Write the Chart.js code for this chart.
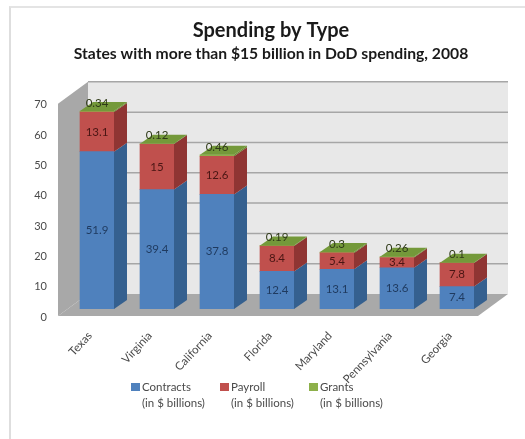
<!DOCTYPE html>
<html>
<head>
<meta charset="utf-8">
<title>Spending by Type</title>
<script src="https://cdn.jsdelivr.net/npm/chart.js@4"></script>
<style>
    html, body { margin: 0; padding: 0; background: #fff; overflow: hidden; }
    #frame { position: absolute; left: 9px; top: 6px; width: 520px; height: 440px; border-left: 2px solid #dedede; border-top: 2px solid #e4e4e4; }
    #wrap { position: absolute; left: 0; top: 0; width: 525px; height: 439px; filter: blur(0.6px); }
</style>
</head>
<body>
<div id="frame"></div>
<div id="wrap"><canvas id="chart" width="525" height="439"></canvas></div>
<script>
const states = ["Texas", "Virginia", "California", "Florida", "Maryland", "Pennsylvania", "Georgia"];
const contracts = [51.9, 39.4, 37.8, 12.4, 13.1, 13.6, 7.4];
const payroll = [13.1, 15, 12.6, 8.4, 5.4, 3.4, 7.8];
const grants = [0.34, 0.12, 0.46, 0.19, 0.3, 0.26, 0.1];
const yTicks = [0, 10, 20, 30, 40, 50, 60, 70];
const seriesNames = ["Contracts", "Payroll", "Grants"];
const legendNote = "(in $ billions)";

const fontName = "Lato, sans-serif";
const textColor = "#4a4a4a";
const frontColors = ["#4f81bd", "#c0504d", "#8db04a"];
const sideColors = ["#35608f", "#8f3533", "#6b8a34"];
const topGreen = "#74993a";

function polygon(ctx, points, fill) {
    ctx.beginPath();
    points.forEach((p, i) => i ? ctx.lineTo(p[0], p[1]) : ctx.moveTo(p[0], p[1]));
    ctx.closePath();
    ctx.fillStyle = fill;
    ctx.fill();
}

// walls and floor of the fake 3d box, behind the bars
const box3d = {
    id: "box3d",
    beforeDatasetsDraw(chart) {
        const { ctx, scales } = chart;
        const left = scales.x.left, right = scales.x.right;
        const y0 = scales.y.getPixelForValue(0), y70 = scales.y.getPixelForValue(70);
        ctx.save();
        // back wall
        polygon(ctx, [[left + 21, y70 - 15], [right + 21, y70 - 15], [right + 21, y0 - 15], [left + 21, y0 - 15]], "#e8e8e8");
        // left wall
        polygon(ctx, [[left - 9, y70 + 7], [left + 21, y70 - 15], [left + 21, y0 - 15], [left - 9, y0 + 7]], "#a8a8a8");
        // floor
        polygon(ctx, [[left - 9, y0 + 7], [left + 21, y0 - 15], [right + 21, y0 - 15], [right - 9, y0 + 7]], "#a9a9a9");
        ctx.strokeStyle = "#a6a6a6";
        ctx.lineWidth = 1.5;
        yTicks.forEach(tick => {
            if (tick === 0) return;
            const y = scales.y.getPixelForValue(tick) - 15;
            ctx.beginPath();
            ctx.moveTo(left + 21, y);
            ctx.lineTo(right + 21, y);
            ctx.stroke();
        });
        ctx.restore();
    },
    afterDatasetsDraw(chart) {
        const { ctx } = chart;
        const dx = 13, dy = -9;
        ctx.save();
        chart.data.datasets.forEach((dataset, d) => {
            chart.getDatasetMeta(d).data.forEach(bar => {
                const r = bar.x + bar.width / 2;
                polygon(ctx, [[r, bar.y], [r + dx, bar.y + dy], [r + dx, bar.base + dy], [r, bar.base]], sideColors[d]);
                if (d === chart.data.datasets.length - 1) {
                    const l = bar.x - bar.width / 2;
                    polygon(ctx, [[l, bar.y], [l + dx, bar.y + dy], [r + dx, bar.y + dy], [r, bar.y]], topGreen);
                }
            });
        });

        // data labels
        ctx.font = "11.5px " + fontName;
        ctx.textAlign = "center";
        ctx.textBaseline = "middle";
        chart.data.datasets.forEach((dataset, d) => {
            chart.getDatasetMeta(d).data.forEach((bar, i) => {
                const y = d === 2 ? bar.y - 8 : (bar.y + bar.base) / 2;
                ctx.fillStyle = ["#1f3a5f", "#4a1614", "#2f3a18"][d];
                ctx.fillText(String(dataset.data[i]), bar.x, y);
            });
        });

        // legend, two lines per entry
        const legendX = [131, 220, 309];
        ctx.textAlign = "left";
        seriesNames.forEach((name, i) => {
            ctx.fillStyle = frontColors[i];
            ctx.fillRect(legendX[i], 383, 9, 8);
            ctx.fillStyle = textColor;
            ctx.fillText(name, legendX[i] + 11, 387);
            ctx.fillText(legendNote, legendX[i] + 11, 403);
        });
        ctx.restore();
    }
};

new Chart(document.getElementById("chart"), {
    type: "bar",
    data: {
        labels: states,
        datasets: [
            { label: seriesNames[0], data: contracts, backgroundColor: frontColors[0] },
            { label: seriesNames[1], data: payroll, backgroundColor: frontColors[1] },
            { label: seriesNames[2], data: grants, backgroundColor: frontColors[2] }
        ]
    },
    options: {
        responsive: false,
        animation: false,
        barThickness: 34,
        layout: { padding: { left: 17, right: 0, top: 19, bottom: 0 } },
        plugins: {
            legend: { display: false },
            tooltip: { enabled: false },
            title: {
                display: true,
                text: "Spending by Type",
                color: "#1a1a1a",
                font: { size: 20, weight: "bold", family: fontName },
                padding: { top: 0, bottom: 2 }
            },
            subtitle: {
                display: true,
                text: "States with more than $15 billion in DoD spending, 2008",
                color: "#1a1a1a",
                font: { size: 15.7, weight: "bold", family: fontName },
                padding: { top: 0, bottom: 33 }
            }
        },
        scales: {
            x: {
                stacked: true,
                grid: { display: false },
                border: { display: false },
                afterFit: scale => { scale.height = 130; },
                ticks: {
                    color: textColor,
                    font: { size: 11.5, family: fontName },
                    minRotation: 47,
                    maxRotation: 47,
                    autoSkip: false,
                    padding: 12,
                    labelOffset: -7
                }
            },
            y: {
                stacked: true,
                min: 0,
                max: 70,
                grid: { display: false, drawTicks: false },
                border: { display: false },
                afterFit: scale => { scale.width = 50; },
                afterBuildTicks: scale => { scale.ticks = yTicks.map(v => ({ value: v })); },
                ticks: {
                    color: textColor,
                    font: { size: 11, family: fontName },
                    padding: 20,
                    labelOffset: 8
                }
            },
            // empty axis, only keeps the plot clear of the right edge
            rightGap: {
                position: "right",
                min: 0,
                max: 70,
                grid: { display: false, drawTicks: false },
                border: { display: false },
                ticks: { display: false },
                afterFit: scale => { scale.width = 38; }
            }
        }
    },
    plugins: [box3d]
});
</script>
</body>
</html>
